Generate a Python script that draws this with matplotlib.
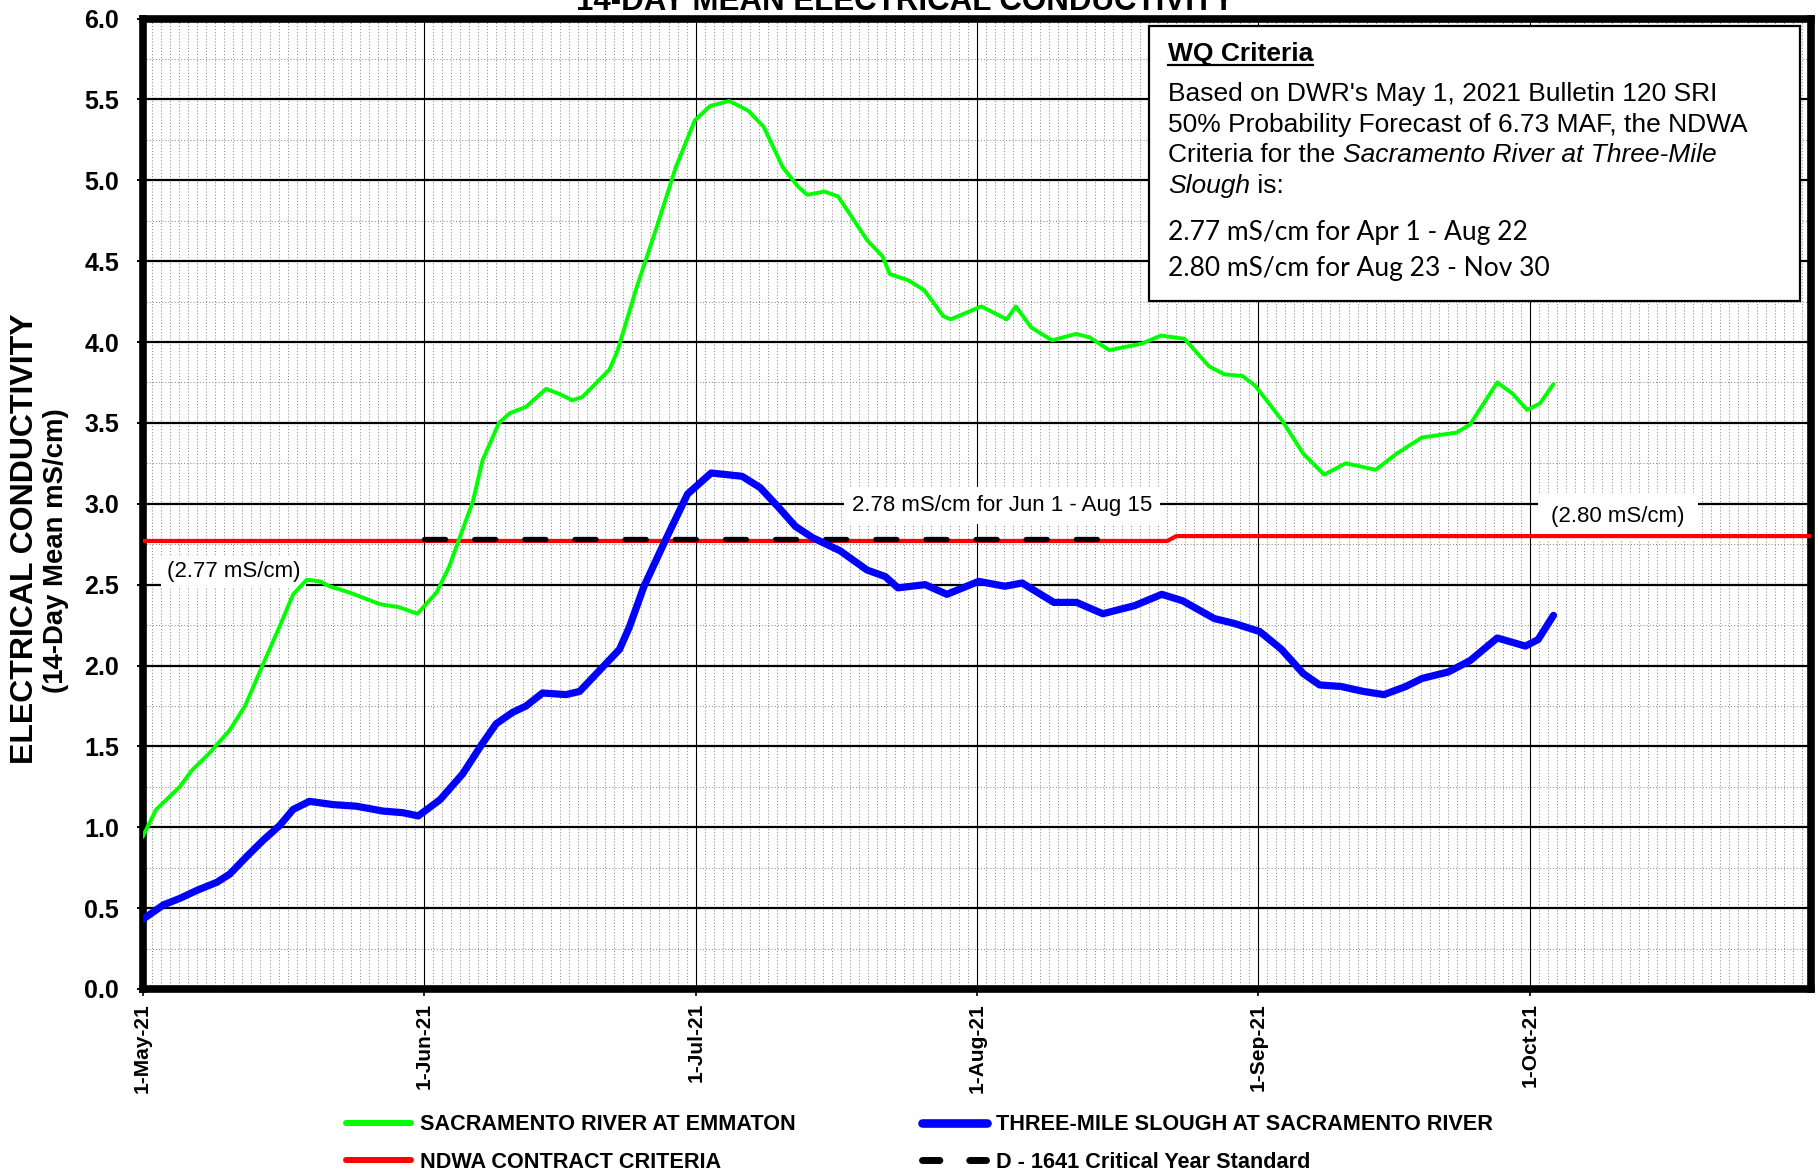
import matplotlib
matplotlib.use('Agg')
import matplotlib.pyplot as plt
from matplotlib.lines import Line2D
from matplotlib.patches import Rectangle
from matplotlib.ticker import MultipleLocator, FixedLocator

plt.rcParams['font.family'] = ['Liberation Sans', 'DejaVu Sans']

# ---------------- data ----------------
month_ticks = [0, 31, 61, 92, 123, 153]          # days after 1-May-21
month_labels = ['1-May-21', '1-Jun-21', '1-Jul-21', '1-Aug-21', '1-Sep-21', '1-Oct-21']

emmaton_day = [0.0, 1.5, 4.1, 5.4, 7.4, 9.6, 11.3, 13.3, 15.1, 16.6, 18.1, 19.6, 20.6,
               22.9, 26.1, 28.3, 30.3, 32.4, 33.8, 34.9, 36.4, 37.5, 39.3, 40.5, 42.3,
               44.5, 45.9, 47.4, 48.5, 51.5, 52.4, 54.5, 56.7, 58.8, 60.9, 62.6, 64.7,
               66.8, 68.5, 70.6, 72.3, 73.3, 75.2, 76.7, 79.9, 81.6, 82.4, 84.5, 86.2,
               88.3, 89.1, 92.5, 95.3, 96.3, 98.0, 100.3, 102.9, 104.4, 106.6, 110.2,
               112.3, 114.9, 117.6, 119.3, 121.3, 122.7, 125.6, 128.0, 130.3, 132.7,
               136.0, 138.3, 141.1, 144.9, 146.4, 149.4, 151.1, 152.7, 154.1, 155.6]
emmaton_ec = [0.94, 1.11, 1.25, 1.35, 1.46, 1.60, 1.75, 2.01, 2.24, 2.44, 2.53, 2.52, 2.49,
              2.45, 2.38, 2.36, 2.32, 2.45, 2.61, 2.78, 3.01, 3.27, 3.50, 3.56, 3.60,
              3.71, 3.68, 3.64, 3.66, 3.83, 3.95, 4.34, 4.71, 5.08, 5.37, 5.46, 5.49,
              5.43, 5.33, 5.08, 4.96, 4.91, 4.93, 4.90, 4.63, 4.53, 4.42, 4.38, 4.32,
              4.16, 4.14, 4.22, 4.14, 4.22, 4.09, 4.01, 4.05, 4.03, 3.95, 3.99,
              4.04, 4.02, 3.85, 3.80, 3.79, 3.73, 3.52, 3.31, 3.18, 3.25,
              3.21, 3.31, 3.41, 3.44, 3.49, 3.75, 3.68, 3.58, 3.62, 3.74]

tms_day = [0.0, 2.3, 4.1, 6.0, 8.2, 9.6, 11.5, 13.3, 15.1, 16.6, 18.4, 21.0, 23.6, 26.5,
           28.7, 30.4, 32.8, 35.3, 37.5, 39.0, 40.8, 42.3, 44.1, 46.7, 48.2, 50.4, 52.6,
           53.7, 55.3, 57.7, 60.1, 62.7, 66.1, 68.1, 70.1, 72.0, 73.9, 76.9, 79.9, 81.9,
           83.3, 86.3, 88.7, 92.2, 95.1, 97.0, 100.5, 103.0, 105.9, 109.4, 112.4, 114.7,
           118.2, 120.4, 123.2, 125.6, 128.0, 129.8, 132.2, 134.6, 136.9, 139.3, 141.1,
           144.0, 146.4, 149.4, 152.5, 153.9, 155.6]
tms_ec = [0.43, 0.52, 0.56, 0.61, 0.66, 0.71, 0.82, 0.92, 1.01, 1.11, 1.16, 1.14, 1.13, 1.10,
          1.09, 1.07, 1.17, 1.33, 1.52, 1.64, 1.71, 1.75, 1.83, 1.82, 1.84, 1.97, 2.10,
          2.24, 2.49, 2.78, 3.06, 3.19, 3.17, 3.10, 2.98, 2.86, 2.79, 2.71, 2.59, 2.55,
          2.48, 2.50, 2.44, 2.52, 2.49, 2.51, 2.39, 2.39, 2.32, 2.37, 2.44, 2.40,
          2.29, 2.26, 2.21, 2.10, 1.95, 1.88, 1.87, 1.84, 1.82, 1.87, 1.92,
          1.96, 2.03, 2.17, 2.12, 2.16, 2.31]

ndwa_day = [0, 113, 114, 184]
ndwa_ec = [2.77, 2.77, 2.80, 2.80]

d1641_day = [31, 106]
d1641_ec = [2.78, 2.78]

legend_labels = ['SACRAMENTO RIVER AT EMMATON', 'THREE-MILE SLOUGH AT SACRAMENTO RIVER',
                 'NDWA CONTRACT CRITERIA', 'D - 1641 Critical Year Standard']

# ---------------- figure ----------------
W, H = 1818, 1172
fig = plt.figure(figsize=(W / 100, H / 100), dpi=100)
fig.patch.set_facecolor('white')

def fx(px):
    return px / W

def fy(py):
    return 1 - py / H

L, R, T, B = 142.6, 1811, 18.5, 989
ax = fig.add_axes([fx(L), fy(B), (R - L) / W, (B - T) / H])
ax.set_xlim(0, 184)
ax.set_ylim(0, 6)

ax.xaxis.set_major_locator(FixedLocator(month_ticks))
ax.xaxis.set_minor_locator(MultipleLocator(1))
ax.yaxis.set_major_locator(MultipleLocator(0.5))
ax.yaxis.set_minor_locator(MultipleLocator(0.25))
ax.set_xticklabels(month_labels, rotation=90, fontsize=15, fontweight='bold')
ax.set_yticks([i * 0.5 for i in range(13)])
ax.set_yticklabels([f'{i * 0.5:.1f}' for i in range(13)], fontsize=18, fontweight='bold')

ax.grid(which='minor', color='#8c8c8c', lw=0.75, ls=(0, (1, 2)))
ax.grid(which='major', axis='x', color='black', lw=0.8)
ax.grid(which='major', axis='y', color='black', lw=1.6)
ax.set_axisbelow(True)
ax.tick_params(which='minor', length=0)
ax.tick_params(axis='y', which='major', length=4, width=1.4, pad=13, direction='out')
ax.tick_params(axis='x', which='major', length=5, width=1.2, pad=5, direction='out')
for s in ax.spines.values():
    s.set_linewidth(5.5)
    s.set_color('black')

# series
ax.plot(ndwa_day, ndwa_ec, color='#ff0000', lw=3.0, zorder=4, solid_joinstyle='round')
ax.plot(d1641_day, d1641_ec, color='black', lw=3.8, zorder=4.5,
        dashes=(4, 5.5), dash_capstyle='round')
ax.plot(emmaton_day, emmaton_ec, color='#00ff00', lw=2.8, zorder=5,
        solid_joinstyle='round', solid_capstyle='round')
ax.plot(tms_day, tms_ec, color='#0000ff', lw=5.2, zorder=6,
        solid_joinstyle='round', solid_capstyle='round')

# annotations
box = dict(boxstyle='square,pad=0.25', facecolor='white', edgecolor='none')
ax.text(10.0, 2.58, '(2.77 mS/cm)', ha='center', va='center', fontsize=16, bbox=box, zorder=3)
ax.text(94.8, 2.99, '2.78 mS/cm for Jun 1 - Aug 15', ha='center', va='center',
        fontsize=16, bbox=dict(boxstyle='square,pad=0.35', facecolor='white', edgecolor='none'),
        zorder=3)
ax.text(162.7, 2.92, '(2.80 mS/cm)', ha='center', va='center', fontsize=16,
        bbox=dict(boxstyle='square,pad=0.6', facecolor='white', edgecolor='none'), zorder=3)

# title & axis label
fig.text(fx(905.5), fy(10), '14-DAY MEAN ELECTRICAL CONDUCTIVITY', ha='center',
         va='baseline', fontsize=22.5, fontweight='bold')
fig.text(fx(25.5), fy(539), 'ELECTRICAL CONDUCTIVITY', rotation=90, ha='center',
         va='center', fontsize=23, fontweight='bold')
fig.text(fx(56), fy(551), '(14-Day Mean mS/cm)', rotation=90, ha='center',
         va='center', fontsize=19.8, fontweight='bold')

# WQ criteria box
fig.patches.append(Rectangle((fx(1149), fy(301)), (1800 - 1149) / W, (301 - 26) / H,
                             transform=fig.transFigure, facecolor='white',
                             edgecolor='black', lw=1.6, zorder=10))
renderer = fig.canvas.get_renderer()

def text_w(s, **kw):
    t1 = fig.text(0, 0, s + '|', **kw)
    t2 = fig.text(0, 0, '|', **kw)
    w = t1.get_window_extent(renderer).width - t2.get_window_extent(renderer).width
    t1.remove(); t2.remove()
    return w

def segs(x0, y, parts, size):
    x = x0
    for s, st in parts:
        kw = dict(fontsize=size, fontstyle=st)
        fig.text(fx(x), fy(y), s, va='baseline', ha='left', zorder=11, **kw)
        x += text_w(s, **kw)

tx = 1168
fig.text(fx(tx), fy(61), 'WQ Criteria', fontsize=19, fontweight='bold',
         va='baseline', ha='left', zorder=11)
wq_w = text_w('WQ Criteria', fontsize=19, fontweight='bold')
fig.add_artist(Line2D([fx(tx), fx(tx + wq_w)], [fy(65), fy(65)], color='black', lw=1.6,
                      transform=fig.transFigure, zorder=11))
bs = 19
segs(tx, 101.5, [("Based on DWR's May 1, 2021 Bulletin 120 SRI", 'normal')], bs)
segs(tx, 132, [("50% Probability Forecast of 6.73 MAF, the NDWA", 'normal')], bs)
segs(tx, 162.5, [("Criteria for the ", 'normal'),
                 ("Sacramento River at Three-Mile", 'italic')], bs)
segs(tx, 193, [("Slough", 'italic'), (" is:", 'normal')], bs)
fig.text(fx(tx), fy(240), '2.77 mS/cm for Apr 1 - Aug 22', family=['Lato', 'DejaVu Sans'],
         fontsize=19, va='baseline', ha='left', zorder=11)
fig.text(fx(tx), fy(276), '2.80 mS/cm for Aug 23 - Nov 30', family=['Lato', 'DejaVu Sans'],
         fontsize=19, va='baseline', ha='left', zorder=11)

# legend (manual layout)
def leg_line(x0, x1, y, **kw):
    fig.add_artist(Line2D([fx(x0), fx(x1)], [fy(y), fy(y)], transform=fig.transFigure, **kw))

r1, r2 = 1123, 1160
leg_line(346, 411, r1, color='#00ff00', lw=4.3, solid_capstyle='round')
leg_line(922, 987, r1, color='#0000ff', lw=6.2, solid_capstyle='round')
leg_line(346, 411, r2, color='#ff0000', lw=4.3, solid_capstyle='round')
leg_line(921.5, 986.1, r2, color='black', lw=5, dashes=(2.5, 4.3), dash_capstyle='round')
for (x, y), lab in zip([(420, r1), (996, r1), (420, r2), (996, r2)], legend_labels):
    fig.text(fx(x), fy(y + 7.5), lab, fontsize=15.6, fontweight='bold',
             va='baseline', ha='left')

fig.savefig('out.png', dpi=100, facecolor='white')
